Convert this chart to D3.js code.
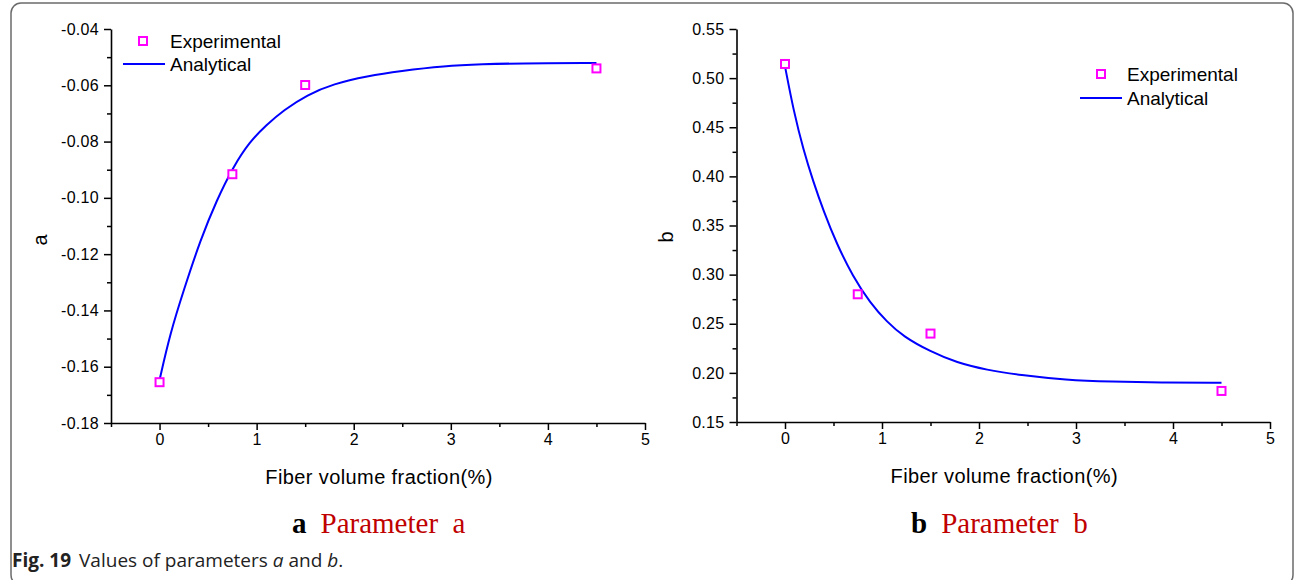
<!DOCTYPE html>
<html><head><meta charset="utf-8">
<script src="https://cdn.jsdelivr.net/npm/d3@7"></script>
<style>
html,body{margin:0;padding:0;background:#fff;}
svg{display:block;}
.tick text{font-family:"Liberation Sans",Arial,sans-serif;font-size:16px;fill:#000;letter-spacing:0.3px;}
</style></head><body>
<svg id="c" width="1295" height="580"></svg>
<script>
// ---- data ----
const expX = [0, 0.75, 1.5, 4.5];
const expA = [-0.1655, -0.0916, -0.0599, -0.054];
const expB = [0.5144, 0.280, 0.240, 0.1816];

const curveAX = [0, 0.11, 0.25, 0.42, 0.59, 0.76, 0.93, 1.1, 1.28, 1.52, 1.79, 2.14, 2.48, 2.93, 3.34, 3.68, 4.5];
const curveAY = [-0.1647, -0.1481, -0.1327, -0.115, -0.1007, -0.0889, -0.080, -0.0741, -0.0688, -0.0634, -0.0595, -0.0567, -0.0549, -0.0531, -0.0525, -0.0522, -0.0521];

const curveBX = [0, 0.09, 0.19, 0.29, 0.40, 0.53, 0.70, 0.88, 1.05, 1.22, 1.50, 1.77, 2.08, 2.42, 2.90, 3.35, 3.93, 4.5];
const curveBY = [0.512, 0.466, 0.427, 0.395, 0.364, 0.332, 0.298, 0.271, 0.252, 0.237, 0.2216, 0.2104, 0.2029, 0.1978, 0.1927, 0.191, 0.190, 0.190];

const xTicks = [0, 1, 2, 3, 4, 5];
const aTicks = [-0.18, -0.16, -0.14, -0.12, -0.10, -0.08, -0.06, -0.04];
const bTicks = [0.15, 0.20, 0.25, 0.30, 0.35, 0.40, 0.45, 0.50, 0.55];
const legendLabels = ["Experimental", "Analytical"];
const xTitle = "Fiber volume fraction(%)";

const svg = d3.select("#c");

// outer rounded frame
svg.append("rect").attr("x", 11).attr("y", 3).attr("width", 1282).attr("height", 582)
  .attr("rx", 10).attr("ry", 10).attr("fill", "none").attr("stroke", "#6b6b6b").attr("stroke-width", 1.5);

function panel(cfg) {
  const x = d3.scaleLinear().domain([-0.5, 5]).range(cfg.xr);
  const y = d3.scaleLinear().domain(cfg.yd).range(cfg.yr);
  const g = svg.append("g");

  // minor ticks
  const minorX = d3.range(-0.5, 5.01, 0.5).filter(v => Math.abs(v - Math.round(v)) > 1e-6);
  g.append("g").attr("transform", `translate(0,${cfg.yr[0]})`)
    .call(d3.axisBottom(x).tickValues(minorX).tickSize(4).tickFormat(""))
    .call(s => s.select(".domain").remove())
    .call(s => s.selectAll("line").attr("stroke", "#000").attr("stroke-width", 1.5));
  g.append("g").attr("transform", `translate(${cfg.xr[0]},0)`)
    .call(d3.axisLeft(y).tickValues(cfg.minorY).tickSize(4).tickFormat(""))
    .call(s => s.select(".domain").remove())
    .call(s => s.selectAll("line").attr("stroke", "#000").attr("stroke-width", 1.5));

  // major axes
  const xa = g.append("g").attr("transform", `translate(0,${cfg.yr[0]})`)
    .call(d3.axisBottom(x).tickValues(xTicks).tickSize(7).tickSizeOuter(0).tickPadding(4).tickFormat(d3.format("d")));
  const ya = g.append("g").attr("transform", `translate(${cfg.xr[0]},0)`)
    .call(d3.axisLeft(y).tickValues(cfg.yTicks).tickSize(7).tickSizeOuter(0).tickPadding(5).tickFormat(cfg.fmt));
  [xa, ya].forEach(a => {
    a.select(".domain").attr("stroke", "#000").attr("stroke-width", 1.6);
    a.selectAll(".tick line").attr("stroke", "#000").attr("stroke-width", 1.5);
  });

  // curve
  const line = d3.line().x(d => x(d[0])).y(d => y(d[1])).curve(d3.curveBasis);
  g.append("path").datum(cfg.cx.map((v, i) => [v, cfg.cy[i]]))
    .attr("d", line).attr("fill", "none").attr("stroke", "#0000ff").attr("stroke-width", 2);

  // experimental points
  g.selectAll(".pt").data(expX.map((v, i) => [v, cfg.ey[i]])).enter().append("rect")
    .attr("x", d => x(d[0]) - 4).attr("y", d => y(d[1]) - 4).attr("width", 8).attr("height", 8)
    .attr("fill", "#fff").attr("stroke", "#ff00ff").attr("stroke-width", 2);

  // axis titles
  g.append("text").attr("x", (cfg.xr[0] + cfg.xr[1]) / 2 + 1).attr("y", cfg.yr[0] + 61)
    .attr("text-anchor", "middle").attr("font-family", "Liberation Sans, Arial, sans-serif")
    .attr("font-size", 20).attr("letter-spacing", 0.4).text(xTitle);
  g.append("text").attr("transform", `translate(${cfg.xr[0] - 64},${cfg.ytitleY}) rotate(-90)`)
    .attr("text-anchor", "middle").attr("font-family", "Liberation Sans, Arial, sans-serif")
    .attr("font-size", 20).text(cfg.ytitle);

  // legend
  const L = cfg.legend;
  g.append("rect").attr("x", L.mx - 4).attr("y", L.y1 - 4).attr("width", 8).attr("height", 8)
    .attr("fill", "#fff").attr("stroke", "#ff00ff").attr("stroke-width", 2);
  g.append("line").attr("x1", L.lx1).attr("x2", L.lx2).attr("y1", L.y2).attr("y2", L.y2)
    .attr("stroke", "#0000ff").attr("stroke-width", 2);
  [L.y1, L.y2].forEach((yy, i) => {
    g.append("text").attr("x", L.tx).attr("y", yy).attr("dy", "0.35em")
      .attr("font-family", "Liberation Sans, Arial, sans-serif").attr("font-size", 19)
      .text(legendLabels[i]);
  });

  // sub caption
  const t = g.append("text").attr("x", cfg.capX).attr("y", 533)
    .attr("font-family", "Liberation Serif, Times New Roman, serif").attr("font-size", 29);
  t.append("tspan").attr("font-weight", "bold").attr("fill", "#000").text(cfg.capLetter);
  t.append("tspan").attr("fill", "#c00000").attr("dx", 14).text("Parameter\u00a0\u00a0" + cfg.capLetter);
}

panel({
  xr: [111, 645], yr: [423, 29], yd: [-0.18, -0.04],
  yTicks: aTicks, minorY: d3.range(-0.17, -0.04, 0.02), fmt: d3.format(".2f"),
  cx: curveAX, cy: curveAY, ey: expA, ytitle: "a", ytitleY: 240,
  legend: {mx: 143, y1: 41, lx1: 123, lx2: 165, y2: 64, tx: 170},
  capX: 292, capLetter: "a"
});
panel({
  xr: [736.5, 1270], yr: [422, 29], yd: [0.15, 0.55],
  yTicks: bTicks, minorY: d3.range(0.175, 0.55, 0.05), fmt: d3.format(".2f"),
  cx: curveBX, cy: curveBY, ey: expB, ytitle: "b", ytitleY: 237,
  legend: {mx: 1101, y1: 74, lx1: 1080, lx2: 1122, y2: 98, tx: 1127},
  capX: 911, capLetter: "b"
});

// hyphen-style minus signs
svg.selectAll(".tick text").text(function(){ return d3.select(this).text().replace("\u2212", "-"); });

// figure caption
const cap = svg.append("text").attr("x", 12).attr("y", 567)
  .attr("font-family", "Open Sans, Noto Sans, sans-serif").attr("font-size", 19).attr("fill", "#222");
cap.append("tspan").attr("font-weight", "bold").text("Fig. 19");
cap.append("tspan").attr("dx", 8).text("Values of parameters ");
cap.append("tspan").attr("font-style", "italic").text("a");
cap.append("tspan").text(" and ");
cap.append("tspan").attr("font-style", "italic").text("b");
cap.append("tspan").text(".");
</script>
</body></html>
